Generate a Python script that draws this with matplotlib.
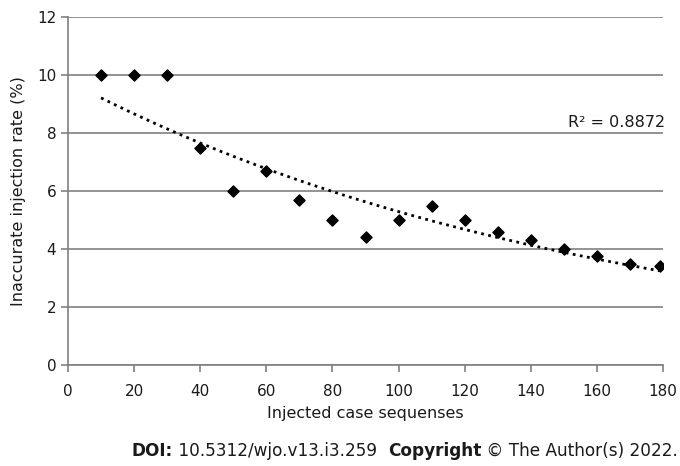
import numpy as np
import matplotlib
matplotlib.use("Agg")
import matplotlib.pyplot as plt

x_cases = [10, 20, 30, 40, 50, 60, 70, 80, 90, 100, 110, 120, 130, 140, 150, 160, 170, 179]
rate = [10, 10, 10, 7.5, 6.0, 6.7, 5.7, 5.0, 4.4, 5.0, 5.5, 5.0, 4.6, 4.3, 4.0, 3.75, 3.5, 3.4]
x_ticks = [0, 20, 40, 60, 80, 100, 120, 140, 160, 180]
y_ticks = [0, 2, 4, 6, 8, 10, 12]
r2_label = "R² = 0.8872"
footer = [("DOI:", 'bold'), (" 10.5312/wjo.v13.i3.259  ", 'normal'),
          ("Copyright", 'bold'), (" © The Author(s) 2022.", 'normal')]

plt.rcParams['font.family'] = ['DejaVu Sans']
fig = plt.figure(figsize=(6.8, 4.66), dpi=100)
ax = fig.add_axes([0.1, 0.2167, 0.875, 0.7468])

xa = np.array(x_cases, float)
ya = np.array(rate, float)
b, lna = np.polyfit(xa, np.log(ya), 1)
xt = np.linspace(xa.min(), xa.max(), 200)
ax.plot(xt, np.exp(lna + b * xt), color='black', linestyle=(0, (1, 1.6)), linewidth=2, zorder=3)
ax.scatter(xa, ya, marker='D', s=32, color='black', zorder=4)

ax.set_xlim(0, 180)
ax.set_ylim(0, 12)
ax.set_xticks(x_ticks)
ax.set_yticks(y_ticks)
ax.yaxis.grid(True, color='#808080', linewidth=1.2)
ax.set_axisbelow(True)
for s in ['top', 'right']:
    ax.spines[s].set_visible(False)
for s in ['left', 'bottom']:
    ax.spines[s].set_color('#808080')
    ax.spines[s].set_linewidth(1.2)
ax.tick_params(axis='both', colors='#808080', length=5, width=1.2, labelsize=11, labelcolor='#1a1a1a')
ax.tick_params(axis='x', pad=9)
ax.set_xlabel("Injected case sequenses", fontsize=11.5, color='#1a1a1a', labelpad=5)
ax.set_ylabel("Inaccurate injection rate (%)", fontsize=11.5, color='#1a1a1a', labelpad=8)
ax.text(180.5, 8.35, r2_label, ha='right', va='center', fontsize=11.5, color='#1a1a1a')

# footer laid out piece by piece, spanning ~128..678 px
renderer = fig.canvas.get_renderer()
fs = 12.2
texts = []
for s, w in footer:
    t = fig.text(0, 1 - 451 / 466, s, ha='left', va='center', fontsize=fs, fontweight=w, color='#1a1a1a')
    texts.append(t)
widths = [t.get_window_extent(renderer).width for t in texts]
total = sum(widths)
x0 = 678 - total
for t, wd in zip(texts, widths):
    t.set_x(x0 / 680)
    x0 += wd

fig.savefig("out.png", dpi=100)
